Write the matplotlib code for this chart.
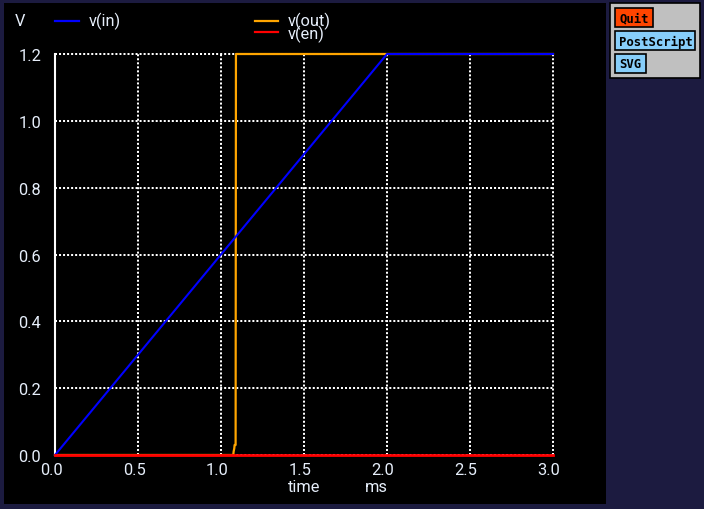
import matplotlib
matplotlib.use("Agg")
import matplotlib.pyplot as plt
from matplotlib.patches import Rectangle
from matplotlib import transforms

# data
t_in = [0.0, 2.0, 3.0]
v_in = [0.0, 1.2, 1.2]
t_out = [0.0, 1.074, 1.076, 1.080, 1.082, 1.088, 1.090, 3.0]
v_out = [0.0, 0.0, 0.01, 0.02, 0.03, 0.03, 1.2, 1.2]
t_en = [0.0, 3.0]
v_en = [0.0, 0.0]
xticks = [0.0, 0.5, 1.0, 1.5, 2.0, 2.5, 3.0]
yticks = [0.0, 0.2, 0.4, 0.6, 0.8, 1.0, 1.2]

W, H = 704, 510
NAVY = "#1c1b40"
TXT = "#e6eefa"
FONT = "Roboto"
FS = 11.8

fig = plt.figure(figsize=(W/100, H/100), dpi=100, facecolor=NAVY)

def px(x, y, w, h):
    return (x/W, 1 - (y+h)/H, w/W, h/H)

# black plot panel
x0, y0, w0, h0 = px(4, 4, 602, 501)
fig.patches.append(Rectangle((x0, y0), w0, h0, transform=fig.transFigure,
                             facecolor="black", edgecolor="none", zorder=-5))

# button panel
bx, by, bw, bh = px(610, 4, 90, 75)
fig.patches.append(Rectangle((bx, by), bw, bh, transform=fig.transFigure,
                             facecolor="#c0c0c0", edgecolor="black", linewidth=1.2, zorder=1))
buttons = [("Quit", 615, 9, 38, 19, "#ff4500"),
           ("PostScript", 615, 32, 80, 19, "#87cefa"),
           ("SVG", 615, 55, 31, 19, "#87cefa")]
for lab, bxp, byp, bwp, bhp, col in buttons:
    a, b, c, d = px(bxp, byp, bwp, bhp)
    fig.patches.append(Rectangle((a, b), c, d, transform=fig.transFigure,
                                 facecolor=col, edgecolor="black", linewidth=1.2, zorder=2))
    fig.text((bxp + 4)/W, 1 - (byp + bhp/2 + 0.5)/H, lab, family="DejaVu Sans Mono",
             weight="bold", fontsize=8.8, color="black", ha="left", va="center", zorder=3)

ax = fig.add_axes(px(55, 55, 498, 401))
ax.set_zorder(5)
ax.set_facecolor("none")
ax.set_xlim(0, 3.0)
ax.set_ylim(0, 1.2)
for s in ["top", "right", "bottom"]:
    ax.spines[s].set_visible(False)
ax.spines["left"].set_color("white")
ax.spines["left"].set_linewidth(1.5)

ax.set_xticks(xticks)
ax.set_yticks(yticks)
ax.set_xticklabels([f"{v:.1f}" for v in xticks])
ax.set_yticklabels([f"{v:.1f}" for v in yticks])
ax.tick_params(length=0, colors=TXT, labelsize=FS)
ax.tick_params(axis="x", pad=5)
ax.tick_params(axis="y", pad=10)
for lbl in ax.get_xticklabels() + ax.get_yticklabels():
    lbl.set_family(FONT)
for lbl in ax.get_xticklabels():
    lbl.set_transform(lbl.get_transform() + transforms.ScaledTranslation(-4/100, 0, fig.dpi_scale_trans))
ax.grid(True, color="white", linestyle=(0, (1, 1)), linewidth=1.45)
for gl in ax.get_xgridlines() + ax.get_ygridlines():
    gl.set_clip_on(False)
ax.set_axisbelow(True)

ax.plot(t_out, v_out, color="orange", linewidth=1.6, zorder=3, clip_on=False)
ax.plot(t_in, v_in, color="blue", linewidth=1.5, zorder=4, clip_on=False)
ax.plot(t_en, v_en, color="red", linewidth=2.0, zorder=5, clip_on=False)

# header labels / legend
def ftext(x, y, s, **kw):
    fig.text(x/W, 1 - y/H, s, color=TXT, family=FONT, fontsize=FS, va="center", **kw)

ftext(15, 22, "V")
fig.add_artist(plt.Line2D([55/W, 79/W], [1 - 22/H]*2, color="blue", linewidth=1.6))
ftext(89, 21, "v(in)")
fig.add_artist(plt.Line2D([255/W, 278/W], [1 - 22/H]*2, color="orange", linewidth=1.6))
fig.add_artist(plt.Line2D([255/W, 278/W], [1 - 33/H]*2, color="red", linewidth=1.6))
ftext(288, 21, "v(out)")
ftext(288, 34, "v(en)")
ftext(288, 487, "time")
ftext(365, 487, "ms")

fig.savefig("out.png", dpi=100, facecolor=NAVY)
